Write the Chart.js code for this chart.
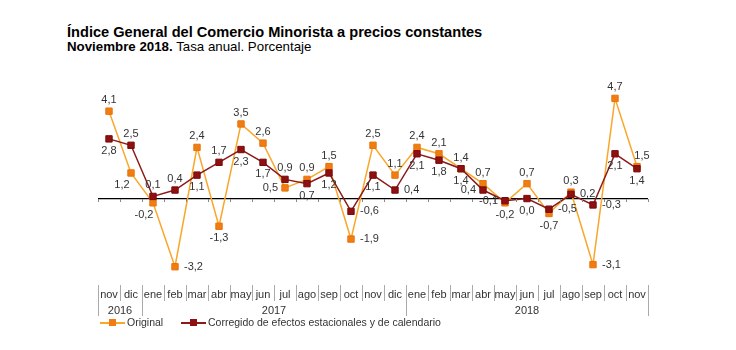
<!DOCTYPE html>
<html>
<head>
<meta charset="utf-8">
<script src="https://cdn.jsdelivr.net/npm/chart.js@4.4.0/dist/chart.umd.min.js"></script>
<style>
    body { margin: 0; background: #fff; font-family: Arial, "Liberation Sans", sans-serif; }
    #wrap { position: relative; width: 736px; height: 350px; overflow: hidden; }
    #chart { position: absolute; left: 0; top: 0; }
    .title { position: absolute; left: 67px; top: 24px; font-size: 14.6px; font-weight: bold; color: #000; }
    .subtitle { position: absolute; left: 67px; top: 39px; font-size: 13.3px; color: #000; }
    .leg { position: absolute; top: 316px; font-size: 10.5px; color: #333; white-space: nowrap; }
    .leg .ln { position: absolute; top: 6px; width: 25px; height: 1.5px; }
    .leg .mk { position: absolute; top: 3px; width: 7px; height: 7px; }
    .leg .tx { position: absolute; left: 27px; top: 0; }
</style>
</head>
<body>
<div id="wrap">
    <div class="title">Índice General del Comercio Minorista a precios constantes</div>
    <div class="subtitle"><b>Noviembre 2018.</b> Tasa anual. Porcentaje</div>
    <canvas id="chart" width="736" height="350"></canvas>
    <div class="leg" style="left:100px">
        <span class="ln" style="background:#F9A72B"></span>
        <span class="mk" style="left:9px;background:#F07D12"></span>
        <span class="tx">Original</span>
    </div>
    <div class="leg" style="left:181px">
        <span class="ln" style="background:#8B1A1A"></span>
        <span class="mk" style="left:9px;background:#8E1010"></span>
        <span class="tx">Corregido de efectos estacionales y de calendario</span>
    </div>
</div>
<script>
// Months from nov 2016 to nov 2018
const months = ['nov', 'dic', 'ene', 'feb', 'mar', 'abr', 'may', 'jun', 'jul', 'ago', 'sep', 'oct', 'nov',
    'dic', 'ene', 'feb', 'mar', 'abr', 'may', 'jun', 'jul', 'ago', 'sep', 'oct', 'nov'];
const yearLabels = ['2016', '2017', '2018'];
const yearFirst = [0, 2, 14];
const yearLast = [1, 13, 24];

const original = [4.1, 1.2, -0.2, -3.2, 2.4, -1.3, 3.5, 2.6, 0.5, 0.9, 1.5, -1.9, 2.5,
    1.1, 2.4, 2.1, 1.4, 0.7, -0.2, 0.7, -0.7, 0.3, -3.1, 4.7, 1.5];
const corregido = [2.8, 2.5, 0.1, 0.4, 1.1, 1.7, 2.3, 1.7, 0.9, 0.7, 1.2, -0.6, 1.1,
    0.4, 2.1, 1.8, 1.4, 0.4, -0.1, 0.0, -0.5, 0.2, -0.3, 2.1, 1.4];

// Where each value label sits relative to its point
const originalPos = ['t', 'bl', 'bl', 'r', 't', 'b', 't', 't', 'l', 't', 't', 'r', 't',
    't', 't', 't', 't', 't', 'b', 't', 'b', 't', 'r', 't', 'tr'];
const corregidoPos = ['b', 't', 't', 't', 'b', 't', 'b', 'b', 't', 'b', 'b', 'r', 'b',
    'r', 'b', 'b', 'b', 'l', 'l', 'b', 'r', 'r', 'r', 'b', 'b'];

// Format number with comma decimal
function formatValue(v) {
    return v.toFixed(1).replace('.', ',');
}

// Value labels next to each point
const valueLabels = {
    id: 'valueLabels',
    afterDatasetsDraw(chart) {
        const ctx = chart.ctx;
        ctx.save();
        ctx.font = '11px Arial, "Liberation Sans", sans-serif';
        ctx.fillStyle = '#333';
        ctx.textBaseline = 'middle';
        const positions = [originalPos, corregidoPos];
        chart.data.datasets.forEach((ds, di) => {
            const meta = chart.getDatasetMeta(di);
            meta.data.forEach((pt, i) => {
                const pos = positions[di][i];
                let x = pt.x, y = pt.y;
                ctx.textAlign = 'center';
                if (pos === 't') { y -= 11; }
                else if (pos === 'b') { y += 12; }
                else if (pos === 'l') { x -= 7; ctx.textAlign = 'right'; }
                else if (pos === 'r') { x += 9; ctx.textAlign = 'left'; }
                else if (pos === 'bl') { x -= 9; y += 12; }
                else if (pos === 'tr') { x += 5; y -= 11; }
                ctx.fillText(formatValue(ds.data[i]), x, y);
            });
        });
        ctx.restore();
    }
};

// Month dividers, year row and small ticks on the zero line
const axisTable = {
    id: 'axisTable',
    afterDraw(chart) {
        const ctx = chart.ctx;
        const xs = chart.scales.x;
        const ys = chart.scales.y;
        const half = (xs.getPixelForValue(1) - xs.getPixelForValue(0)) / 2;
        const bottom = Math.round(chart.chartArea.bottom);
        const left = xs.getPixelForValue(0) - half;
        ctx.save();
        ctx.lineWidth = 1;
        ctx.strokeStyle = '#aaa';
        ctx.beginPath();
        for (let i = 0; i <= months.length; i++) {
            const x = Math.round(left + i * half * 2) + 0.5;
            ctx.moveTo(x, bottom + 1);
            ctx.lineTo(x, bottom + 17);
        }
        ctx.stroke();

        ctx.font = '11px Arial, "Liberation Sans", sans-serif';
        ctx.fillStyle = '#333';
        ctx.textAlign = 'center';
        ctx.textBaseline = 'middle';
        yearLabels.forEach((label, i) => {
            const x0 = xs.getPixelForValue(yearFirst[i]) - half;
            const x1 = xs.getPixelForValue(yearLast[i]) + half;
            ctx.beginPath();
            ctx.moveTo(Math.round(x0) + 0.5, bottom + 1);
            ctx.lineTo(Math.round(x0) + 0.5, bottom + 32);
            if (i === yearLabels.length - 1) {
                ctx.moveTo(Math.round(x1) + 0.5, bottom + 1);
                ctx.lineTo(Math.round(x1) + 0.5, bottom + 32);
            }
            ctx.stroke();
            ctx.fillText(label, (x0 + x1) / 2, bottom + 27);
        });

        // small ticks under the zero line
        const y0 = Math.round(ys.getPixelForValue(0));
        ctx.strokeStyle = '#888';
        ctx.beginPath();
        for (let i = 0; i <= months.length; i++) {
            const x = Math.round(left + i * half * 2) + 0.5;
            ctx.moveTo(x, y0);
            ctx.lineTo(x, y0 + 3);
        }
        ctx.stroke();
        ctx.restore();
    }
};

function initializeChart() {
    const ctx = document.getElementById('chart');
    new Chart(ctx, {
        type: 'line',
        data: {
            labels: months,
            datasets: [{
                label: 'Original',
                data: original,
                borderColor: '#F9A72B',
                borderWidth: 1.5,
                pointStyle: 'rect',
                pointRadius: 4.5,
                pointBackgroundColor: '#F07D12',
                pointBorderColor: '#E8740A',
                pointBorderWidth: 1,
                tension: 0,
                clip: false,
                order: 1
            }, {
                label: 'Corregido de efectos estacionales y de calendario',
                data: corregido,
                borderColor: '#8B1A1A',
                borderWidth: 1.5,
                pointStyle: 'rect',
                pointRadius: 4.5,
                pointBackgroundColor: '#8E1010',
                pointBorderColor: '#7A0A0A',
                pointBorderWidth: 1,
                tension: 0,
                clip: false,
                order: 0
            }]
        },
        options: {
            responsive: false,
            animation: false,
            layout: { padding: { left: 98, right: 88, top: 92, bottom: 43 } },
            plugins: {
                legend: { display: false },
                tooltip: { enabled: false }
            },
            scales: {
                x: {
                    offset: true,
                    grid: { display: false, drawTicks: false },
                    border: { display: false },
                    ticks: {
                        padding: 5,
                        color: '#333',
                        font: { size: 11, family: 'Arial, "Liberation Sans", sans-serif' },
                        maxRotation: 0,
                        autoSkip: false
                    }
                },
                y: {
                    min: -4,
                    max: 5,
                    ticks: { display: false, stepSize: 1 },
                    grid: {
                        drawTicks: false,
                        color: c => c.tick && c.tick.value === 0 ? '#000' : 'rgba(0,0,0,0)',
                        lineWidth: 1.2
                    },
                    border: { display: false }
                }
            }
        },
        plugins: [valueLabels, axisTable]
    });
}

document.addEventListener('DOMContentLoaded', initializeChart);
</script>
</body>
</html>
